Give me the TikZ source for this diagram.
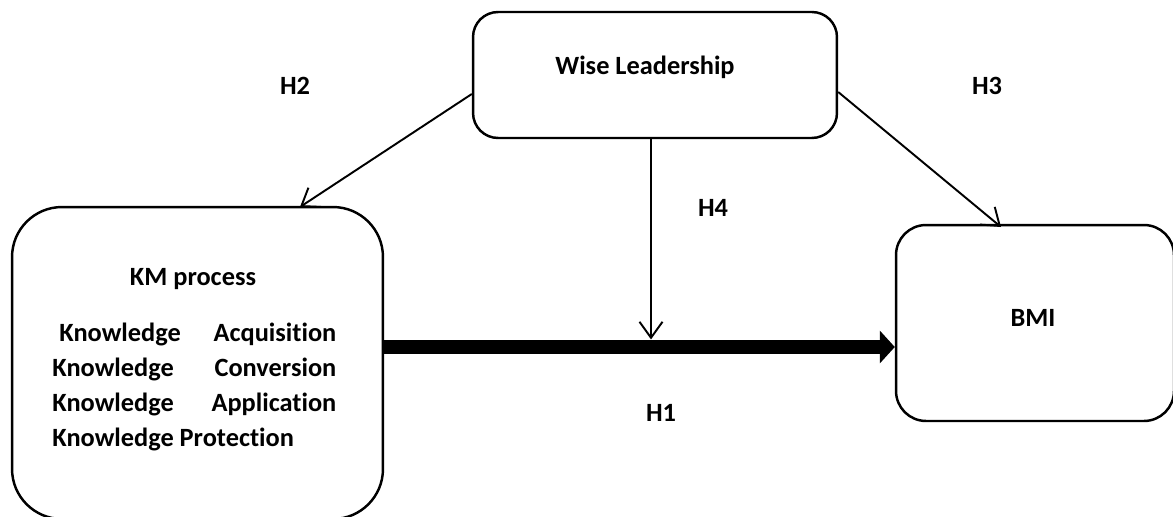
\documentclass[tikz,border=0pt]{standalone}
\usepackage{fontspec}
\setmainfont{Carlito}[Ligatures=NoCommon]
\usetikzlibrary{arrows.meta}

\begin{document}
\begin{tikzpicture}[x=0.02cm,y=-0.02cm,
    box/.style={draw,line width=1.4pt,inner sep=0pt},
    txt/.style={font=\fontsize{15}{18}\selectfont\bfseries,inner sep=0pt},
    link/.style={line width=1.1pt,-{Straight Barb[length=3.2mm,width=4.6mm]}},
    mainlink/.style={line width=8.5pt,-{Triangle[length=3mm,width=6.4mm]}}]

        % ============================================
        % FRAME
        % ============================================

        \useasboundingbox (0,0) rectangle (1173,517);

        % ============================================
        % BOXES
        % ============================================

        \node[box,rounded corners=0.5cm,minimum width=7.28cm,minimum height=2.52cm] (lead) at (655,75) {};
        \node[box,rounded corners=1cm,minimum width=7.42cm,minimum height=6.24cm] (km) at (197.5,363) {};
        \node[box,rounded corners=0.6cm,minimum width=5.56cm,minimum height=3.92cm] (bmi) at (1035,323) {};

        % Box texts
        \node[txt] (leadtxt) at (645,67) {Wise Leadership};
        \node[txt] (kmtxt) at (193,279) {KM process};
        \node[txt] (bmitxt) at (1033,318) {BMI};

        \node[txt,anchor=base west] (kmacq) at (59,341) {\makebox[5.54cm][s]{Knowledge Acquisition}};
        \node[txt,anchor=base west] (kmcon) at (52,376) {\makebox[5.68cm][s]{Knowledge Conversion}};
        \node[txt,anchor=base west] (kmapp) at (52,411) {\makebox[5.68cm][s]{Knowledge Application}};
        \node[txt,anchor=base west] (kmpro) at (52,446) {Knowledge Protection};

        % ============================================
        % CONNECTORS
        % ============================================

        \coordinate (h2end) at (300,207);
        \coordinate (h3end) at (1001,227);
        \coordinate (meet) at (651,347);

        \draw[link] (lead.west |- 0,94) -- (h2end);
        \draw[link] (lead.east |- 0,92) -- (h3end);
        \draw[link,shorten >=4.3pt] (lead.south -| meet) -- (meet);
        \draw[mainlink] (km.east |- meet) -- (bmi.west |- meet);

        % Hypothesis labels
        \node[txt] (h1) at (661,413) {H1};
        \node[txt] (h2) at (295,86) {H2};
        \node[txt] (h3) at (987,86) {H3};
        \node[txt] (h4) at (713,208) {H4};

\end{tikzpicture}
\end{document}
